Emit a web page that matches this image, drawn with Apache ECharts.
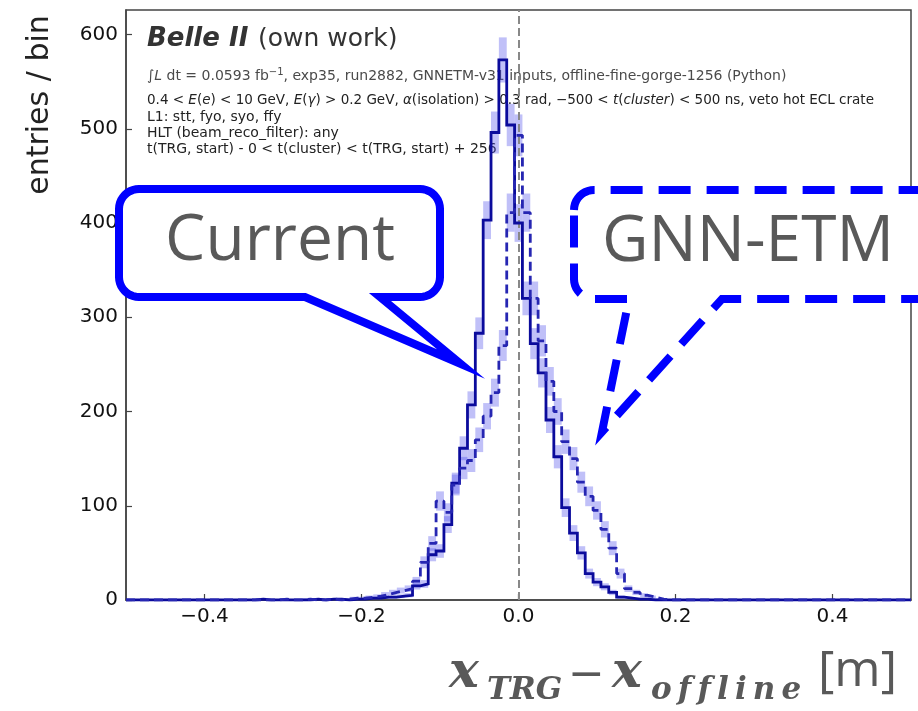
<!DOCTYPE html>
<html><head><meta charset="utf-8">
<script src="https://cdn.jsdelivr.net/npm/echarts@6.0.0/dist/echarts.min.js"></script>
<style>html,body{margin:0;padding:0;background:#fff}#c{width:918px;height:711px}</style>
</head><body><div id="c"></div>
<script>
// ---- data ----
const binWidth = 0.01;
const binCenters = [-0.34,-0.33,-0.32,-0.31,-0.30,-0.29,-0.28,-0.27,-0.26,-0.25,-0.24,-0.23,-0.22,-0.21,-0.20,-0.19,-0.18,-0.17,-0.16,-0.15,-0.14,-0.13,-0.12,-0.11,-0.10,-0.09,-0.08,-0.07,-0.06,-0.05,-0.04,-0.03,-0.02,-0.01,0.00,0.01,0.02,0.03,0.04,0.05,0.06,0.07,0.08,0.09,0.10,0.11,0.12,0.13,0.14,0.15,0.16,0.17,0.18,0.19];
const currentCounts = [0,1,0,0,0,0,0,0,1,0,1,1,0,1,1,2,2,3,3,4,5,15,17,48,52,80,124,161,207,283,403,496,573,504,400,320,272,241,191,152,98,71,50,28,19,14,8,3,2,1,1,0,0,0];
const gnnCounts     = [0,0,0,0,1,0,0,1,0,0,1,0,1,2,2,3,4,6,8,10,12,20,40,60,105,93,122,140,148,170,195,220,270,411,493,411,320,275,232,200,168,150,125,110,95,75,55,28,12,8,5,3,1,0];
const xTickValues = [-0.4,-0.2,0,0.2,0.4];
const yTickValues = [0,100,200,300,400,500,600];

// ---- helpers ----
function stepPoints(counts){
  const pts=[[-0.5,0]];
  binCenters.forEach((c,i)=>{pts.push([c-binWidth/2,counts[i]],[c+binWidth/2,counts[i]]);});
  pts.push([0.5,0]);
  return pts;
}
function errRender(params, api){
  const c=api.value(0), v=api.value(1);
  if(!(v>0)) return null;
  const e=Math.sqrt(v);
  const p1=api.coord([c-binWidth/2, v+e]);
  const p2=api.coord([c+binWidth/2, v-e]);
  return {type:'rect', shape:{x:p1[0], y:p1[1], width:p2[0]-p1[0], height:p2[1]-p1[1]},
          style:{fill:'rgba(80,80,235,0.36)'}};
}
function arcPts(cx,cy,r,a0,a1,n){
  const out=[];
  for(let k=0;k<=n;k++){const a=a0+(a1-a0)*k/n; out.push([cx+r*Math.cos(a), cy+r*Math.sin(a)]);}
  return out;
}
function callout(x0,y0,x1,y1,r,tA,tB,tip){
  let p=[];
  p=p.concat(arcPts(x0+r,y0+r,r,Math.PI,1.5*Math.PI,10));
  p=p.concat(arcPts(x1-r,y0+r,r,1.5*Math.PI,2*Math.PI,10));
  p=p.concat(arcPts(x1-r,y1-r,r,0,0.5*Math.PI,10));
  p.push([tB,y1]); p.push(tip); p.push([tA,y1]);
  p=p.concat(arcPts(x0+r,y1-r,r,0.5*Math.PI,Math.PI,10));
  return p;
}

const chart = echarts.init(document.getElementById('c'), null, {renderer:'canvas'});
const FONT = 'DejaVu Sans';
const txt = (s)=>Object.assign({fontFamily:FONT, fill:'#222', fontSize:14, verticalAlign:'middle'}, s);
const SERIF = {fontFamily:'DejaVu Serif', fontWeight:'bold', fontStyle:'italic', fill:'#595959', verticalAlign:'middle'};

chart.setOption({
  animation:false,
  backgroundColor:'#fff',
  grid:{left:126, right:7, top:10, bottom:111, show:true, borderColor:'#444', borderWidth:1.5},
  xAxis:{type:'value', min:-0.5, max:0.5, interval:0.1,
    axisLine:{show:true, onZero:false, lineStyle:{color:'#444', width:1.5}},
    axisTick:{show:true, inside:true, length:6, customValues:xTickValues, lineStyle:{color:'#444', width:1.2}},
    axisLabel:{customValues:xTickValues, color:'#111', fontSize:20, fontFamily:FONT, margin:7,
      formatter:v=>(v<0?'\u2212':'')+Math.abs(v).toFixed(1)},
    splitLine:{show:false}},
  yAxis:{type:'value', min:0, max:626, interval:100,
    axisLine:{show:true, onZero:false, lineStyle:{color:'#444', width:1.5}},
    axisTick:{show:true, inside:true, length:6, customValues:yTickValues, lineStyle:{color:'#444', width:1.2}},
    axisLabel:{customValues:yTickValues, color:'#111', fontSize:20, fontFamily:FONT, margin:8},
    splitLine:{show:false}},
  series:[
    {type:'custom', name:'err-current', renderItem:errRender, z:1,
     data:binCenters.map((c,i)=>[c,currentCounts[i]])},
    {type:'custom', name:'err-gnn', renderItem:errRender, z:1,
     data:binCenters.map((c,i)=>[c,gnnCounts[i]])},
    {type:'line', name:'Current', data:stepPoints(currentCounts), symbol:'none', z:3,
     lineStyle:{color:'#0b0b9c', width:2.8, join:'miter'},
     markLine:{silent:true, symbol:['none','none'], label:{show:false}, z:2,
       lineStyle:{color:'#888888', type:'dashed', width:2}, data:[{xAxis:0}]}},
    {type:'line', name:'GNN-ETM', data:stepPoints(gnnCounts), symbol:'none', z:3,
     lineStyle:{color:'#2626b2', width:2.8, type:[9,5]}}
  ],
  graphic:[
    {type:'text', x:40, y:105, rotation:Math.PI/2, z:5,
     style:{text:'entries / bin', fontFamily:FONT, fontSize:30, fill:'#222', align:'center', verticalAlign:'middle'}},
    {type:'text', x:147, y:39, z:0, style:txt({text:'Belle II', fontSize:26, fontWeight:'bold', fontStyle:'italic', fill:'#333'})},
    {type:'text', x:258, y:39, z:0, style:txt({text:'(own work)', fontSize:25, fill:'#333'})},
    {type:'text', x:147, y:76, z:0, style:txt({fill:'#4a4a4a', fontSize:14,
       text:'\u222B{i|L} dt = 0.0593 fb{sup|\u22121}, exp35, run2882, GNNETM-v31 inputs, offline-fine-gorge-1256 (Python)',
       rich:{i:{fontStyle:'italic', fontFamily:FONT, fontSize:14, fill:'#4a4a4a'}, sup:{fontFamily:FONT, fontSize:10, fill:'#4a4a4a', verticalAlign:'top', padding:[0,0,8,0]}}})},
    {type:'text', x:147, y:100, z:0, style:txt({fontSize:13.5,
       text:'0.4 < {i|E}({i|e}) < 10 GeV, {i|E}({i|\u03B3}) > 0.2 GeV, {i|\u03B1}(isolation) > 0.3 rad, \u2212500 < {i|t}({i|cluster}) < 500 ns, veto hot ECL crate',
       rich:{i:{fontStyle:'italic', fontFamily:FONT, fontSize:13.5, fill:'#222'}}})},
    {type:'text', x:147, y:117, z:0, style:txt({text:'L1: stt, fyo, syo, ffy'})},
    {type:'text', x:147, y:133, z:0, style:txt({text:'HLT (beam_reco_filter): any'})},
    {type:'text', x:147, y:149, z:0, style:txt({text:'t(TRG, start) - 0 < t(cluster) < t(TRG, start) + 256'})},
    // callouts
    {type:'polygon', z:100, shape:{points:callout(119,189,440,297,20,305,380,[461,364])},
     style:{fill:'#fff', stroke:'#0000ff', lineWidth:8, lineJoin:'miter', miterLimit:10}},
    {type:'text', x:280, y:242, z:101, style:{text:'Current', fontFamily:'Open Sans', fontSize:64, fill:'#595959', align:'center', verticalAlign:'middle'}},
    {type:'polygon', z:100, shape:{points:callout(574,190,990,299,20,629,722,[602,432])},
     style:{fill:'#fff', stroke:'#0000ff', lineWidth:8, lineDash:[32,16], lineJoin:'miter', miterLimit:10}},
    {type:'text', x:748, y:243, z:101, style:{text:'GNN-ETM', fontFamily:'Open Sans', fontSize:64, fill:'#595959', align:'center', verticalAlign:'middle'}},
    // x-axis title
    {type:'text', x:449, y:674, z:5, style:Object.assign({text:'x', fontSize:50}, SERIF)},
    {type:'text', x:487, y:691, z:5, style:Object.assign({text:'TRG', fontSize:31}, SERIF)},
    {type:'text', x:568, y:677, z:5, style:{text:'\u2212', fontFamily:'DejaVu Sans', fontSize:44, fill:'#595959', verticalAlign:'middle'}},
    {type:'text', x:612, y:674, z:5, style:Object.assign({text:'x', fontSize:50}, SERIF)},
    {type:'text', x:651, y:691, z:5, style:Object.assign({text:'o\u2009f\u2009f\u2009l\u2009i\u2009n\u2009e', fontSize:31}, SERIF)},
    {type:'text', x:818, y:672, z:5, style:{text:'[m]', fontFamily:'Open Sans', fontSize:50, fill:'#595959', verticalAlign:'middle'}}
  ]
});
</script></body></html>
